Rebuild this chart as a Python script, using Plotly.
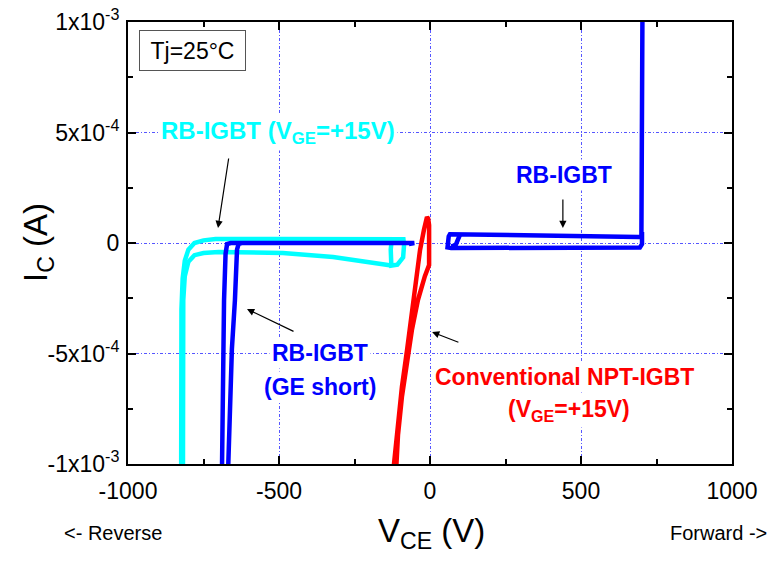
import plotly.graph_objects as go

# ---- measured I-V loops (V in volts, I in units of 1e-4 A; None breaks a polyline) ----
cyan_v = [-824, -824, -823, -819, -812, -800, -780, -750, -710, -500, -200, -88, -86, -89, -108, -128, -130, -127,
          None,
          -818, -818, -817, -812, -800, -780, -750, -700, -487, -321, -200, -156, -128]
cyan_i = [-10.5, -6.0, -3.0, -1.6, -0.8, -0.3, 0.0, 0.12, 0.18, 0.18, 0.18, 0.17, -0.1, -0.65, -0.98, -1.02, -0.3, 0.12,
          None,
          -10.5, -5.0, -2.6, -1.5, -0.85, -0.55, -0.45, -0.41, -0.45, -0.63, -0.88, -1.0, -1.02]

short_v = [-689, -685, -682, -677, -672, -660, -400, -100, -70, -52, -70,
           None,
           -669, -656, -646, -639, -634, -625]
short_i = [-10.5, -5.0, -2.6, -0.5, -0.05, 0.0, 0.0, 0.0, 0.02, 0.0, -0.05,
           None,
           -10.5, -4.8, -2.6, -0.3, -0.05, 0.0]

fwd_v = [704, 703, 702, 700, 690, 500, 300, 100, 66, 62, 57, 58, 70, 300, 600, 695, 702, 702,
         None,
         100, 85, 70]
fwd_i = [12, 5, 0.5, 0.3, 0.27, 0.32, 0.36, 0.4, 0.4, 0.3, -0.05, -0.2, -0.23, -0.22, -0.22, -0.2, -0.05, 0.5,
         None,
         0.4, -0.1, -0.15]

npt_v = [-123, -119, -109, -93, -76, -60, -45, -33, -20, -13, -10, -6, -3, -3, -3, -17, -40, -60, -76, -93, -106, -113]
npt_i = [-10.5, -9.95, -8.6, -6.52, -4.84, -3.03, -1.6, -0.32, 0.6, 1.13, 1.18, 1.1, 0.81, -0.3, -1.0, -1.5, -2.58,
         -3.94, -5.38, -6.97, -8.69, -10.5]

scale = 1e-4

x_ticks = [-1000, -500, 0, 500, 1000]
y_ticks = [-1e-3, -5e-4, 0, 5e-4, 1e-3]
y_tick_text = ["-1x10<sup>-3</sup>", "-5x10<sup>-4</sup>", "0", "5x10<sup>-4</sup>", "1x10<sup>-3</sup>"]

CYAN = "#00FFFF"
BLUE = "#0000FF"
RED = "#FF0000"
FONT = "Liberation Sans, Arial, sans-serif"
LABEL_SIZE = 23


def amps(vals):
    return [None if v is None else v * scale for v in vals]


fig = go.Figure()
for xs, ys, col in [(cyan_v, cyan_i, CYAN), (short_v, short_i, BLUE),
                    (fwd_v, fwd_i, BLUE), (npt_v, npt_i, RED)]:
    fig.add_trace(go.Scatter(x=xs, y=amps(ys), mode="lines", connectgaps=False,
                             line=dict(color=col, width=4.5), hoverinfo="skip",
                             showlegend=False))

axis_common = dict(
    showline=True, linewidth=2, linecolor="black", mirror="allticks",
    ticks="inside", ticklen=8, tickwidth=2, tickcolor="black",
    showgrid=True, gridcolor="rgba(30,30,255,0.75)", gridwidth=1, griddash="3px,2px,1px,2px",
    zeroline=False, automargin=False,
    tickfont=dict(family=FONT, size=23, color="black"),
)

fig.update_xaxes(range=[-1000, 1000], tickvals=x_ticks, ticktext=[str(v) for v in x_ticks],
                 ticklabelstandoff=5,
                 minor=dict(tickvals=[-750, -250, 250, 750], ticks="inside", ticklen=5,
                            tickwidth=2, tickcolor="black", showgrid=False),
                 **axis_common)
fig.update_yaxes(range=[-1e-3, 1e-3], tickvals=y_ticks, ticktext=y_tick_text,
                 ticklabelstandoff=2,
                 minor=dict(tickvals=[-7.5e-4, -2.5e-4, 2.5e-4, 7.5e-4], ticks="inside", ticklen=5,
                            tickwidth=2, tickcolor="black", showgrid=False),
                 **axis_common)

ann = []


def label(text, x, y, color, size=LABEL_SIZE):
    ann.append(dict(text=f"<b>{text}</b>", x=x, y=y, xref="x", yref="y",
                    showarrow=False, font=dict(family=FONT, size=size, color=color),
                    bgcolor="white", borderpad=2))


def arrow(x0, y0, x1, y1):
    ann.append(dict(text="", x=x1, y=y1, ax=x0, ay=y0, xref="x", yref="y",
                    axref="x", ayref="y", showarrow=True, arrowhead=2, arrowsize=1.2,
                    arrowwidth=1.2, arrowcolor="black"))


label("RB-IGBT (V<sub>GE</sub>=+15V)", -503, 0.502e-3, CYAN, size=24)
label("RB-IGBT", 444, 0.308e-3, BLUE)
label("RB-IGBT", -364, -0.498e-3, BLUE)
label("(GE short)", -364, -0.652e-3, BLUE)
label("Conventional NPT-IGBT", 444, -0.607e-3, RED)
label("(V<sub>GE</sub>=+15V)", 460, -0.760e-3, RED)

arrow(-666, 0.389e-3, -702, 0.068e-3)
arrow(440, 0.204e-3, 440, 0.068e-3)
arrow(-447, -0.403e-3, -606, -0.299e-3)
arrow(99, -0.452e-3, 7, -0.403e-3)

# temperature box
ann.append(dict(text="Tj=25°C", x=-785, y=0.873e-3, xref="x", yref="y", showarrow=False,
                font=dict(family=FONT, size=23, color="black"), bgcolor="white",
                bordercolor="#555555", borderwidth=1, borderpad=1, width=103, height=37))

# axis titles and direction hints
ann.append(dict(text="V<sub>CE</sub> (V)", x=(431 - 128) / 604, y=-0.156, xref="paper", yref="paper",
                showarrow=False, font=dict(family=FONT, size=33, color="black"),
                xanchor="center", yanchor="middle"))
ann.append(dict(text="I<sub>C</sub> (A)", x=-0.149, y=0.5, xref="paper", yref="paper",
                showarrow=False, textangle=-90, font=dict(family=FONT, size=33, color="black"),
                xanchor="center", yanchor="middle"))
ann.append(dict(text="<- Reverse", x=(113 - 128) / 604, y=-0.156, xref="paper", yref="paper",
                showarrow=False, font=dict(family=FONT, size=20, color="black"),
                xanchor="center", yanchor="middle"))
ann.append(dict(text="Forward ->", x=(718 - 128) / 604, y=-0.156, xref="paper", yref="paper",
                showarrow=False, font=dict(family=FONT, size=20, color="black"),
                xanchor="center", yanchor="middle"))

fig.update_layout(
    width=772, height=563,
    margin=dict(l=128, r=40, t=22, b=99, autoexpand=False),
    paper_bgcolor="white", plot_bgcolor="white",
    annotations=ann, showlegend=False,
)

fig.write_html("out.html")
